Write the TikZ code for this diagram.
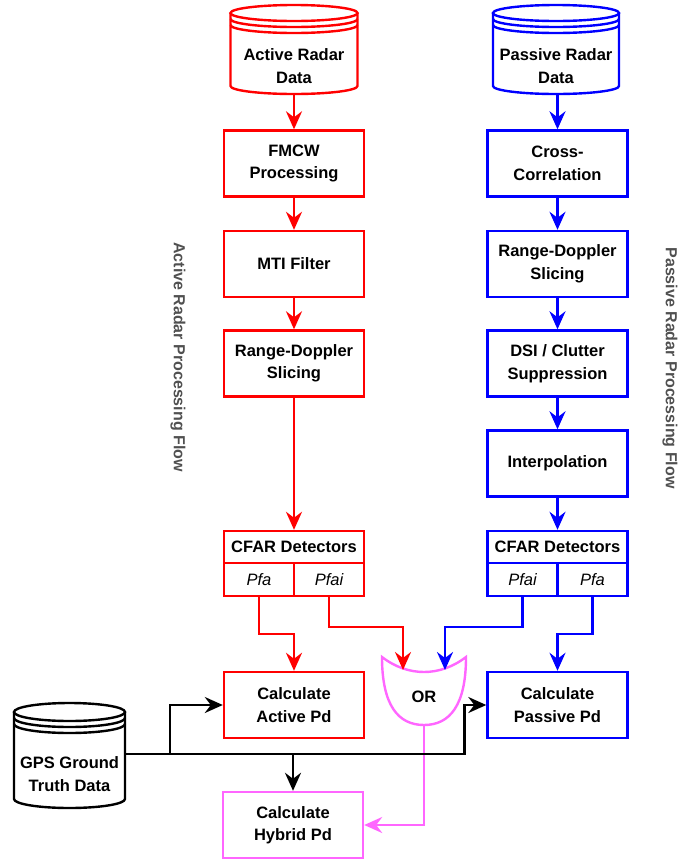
\documentclass[tikz,border=0pt]{standalone}
\usepackage{fontspec}
\setmainfont{Liberation Sans}
\usetikzlibrary{arrows.meta}

\definecolor{actred}{RGB}{255,0,0}
\definecolor{pasblue}{RGB}{0,0,255}
\definecolor{hybpink}{RGB}{255,102,255}
\definecolor{flowgray}{RGB}{80,80,80}

\newcommand{\boxfont}{\fontsize{16.5}{22.5}\selectfont\bfseries}
\newcommand{\cellfont}{\fontsize{16.5}{20}\selectfont\itshape}
\newcommand{\sidefont}{\fontsize{16}{20}\selectfont\bfseries}

% datastore cylinder: x, top y, half width, cap radius, bottom y, colour
\newcommand{\datastore}[6]{%
  \draw[#6, line width=2.4pt, fill=white]
    ({#1-#3},{#2+#4}) -- ({#1-#3},{#5-#4})
    arc[start angle=180, end angle=0, x radius=#3, y radius=#4]
    -- ({#1+#3},{#2+#4});
  \draw[#6, line width=2.4pt] (#1,{#2+#4}) ellipse[x radius=#3, y radius=#4];
  \foreach \off in {6,12}
    \draw[#6, line width=2.4pt] ({#1-#3},{#2+#4+\off})
      arc[start angle=180, end angle=0, x radius=#3, y radius=#4];
}

\tikzset{
  flowbox/.style={draw, line width=2.4pt, fill=white, minimum width=140pt,
    minimum height=66pt, inner sep=0pt, align=center, font=\boxfont},
  actbox/.style={flowbox, draw=actred},
  pasbox/.style={flowbox, draw=pasblue},
  hybbox/.style={flowbox, draw=hybpink},
  cellbox/.style={draw, line width=2.4pt, minimum width=70pt, minimum height=33pt,
    inner sep=0pt, font=\cellfont},
  storetext/.style={inner sep=0pt, align=center, font=\boxfont},
  flowarrow/.style={line width=2.4pt, -{Stealth[length=18pt, width=16pt, inset=6pt]}},
  sidelabel/.style={rotate=-90, text=flowgray, font=\sidefont},
}

\begin{document}
\begin{tikzpicture}[x=1pt, y=-1pt]
  \useasboundingbox (0,0) rectangle (697,863);

  % data sources
  \datastore{294}{5}{63.5}{8}{94}{actred}
  \datastore{556}{5}{63}{8}{94}{pasblue}
  \datastore{69.5}{703}{55.5}{9}{808}{black}
  \node[storetext, minimum height=54pt] (ard) at (294,66) {Active Radar\\Data};
  \node[storetext, minimum height=54pt] (prd) at (556,66) {Passive Radar\\Data};
  \node[storetext] (gps) at (69.5,774) {GPS Ground\\Truth Data};
  \coordinate (gpsout) at (125,754);

  % active chain
  \node[actbox] (fmcw) at (294,163.5) {FMCW\\Processing};
  \node[actbox] (mti) at (294,264) {MTI Filter};
  \node[actbox] (rda) at (294,363.5) {Range-Doppler\\Slicing};
  \node[actbox, minimum height=32pt] (cfa) at (294,547) {CFAR Detectors};
  \node[cellbox, draw=actred] (cfa1) at (259,579.5) {Pfa};
  \node[cellbox, draw=actred] (cfa2) at (329,579.5) {Pfai};

  % passive chain
  \node[pasbox] (xcor) at (557.5,163.5) {Cross-\\Correlation};
  \node[pasbox] (rdp) at (557.5,264) {Range-Doppler\\Slicing};
  \node[pasbox] (dsi) at (557.5,363.5) {DSI / Clutter\\Suppression};
  \node[pasbox] (interp) at (557.5,463.5) {Interpolation};
  \node[pasbox, minimum height=32pt] (cfp) at (557.5,547) {CFAR Detectors};
  \node[cellbox, draw=pasblue] (cfp1) at (522.5,579.5) {Pfai};
  \node[cellbox, draw=pasblue] (cfp2) at (592.5,579.5) {Pfa};

  % results
  \node[actbox] (actpd) at (294,705) {Calculate\\Active Pd};
  \node[pasbox] (paspd) at (557.5,705) {Calculate\\Passive Pd};
  \node[hybbox] (hybpd) at (293,825) {Calculate\\Hybrid Pd};

  % OR gate
  \draw[hybpink, line width=2.4pt] (382,657)
    .. controls (382,705) and (398,725) .. (424,725)
    .. controls (450,725) and (466,705) .. (466,657)
    .. controls (440,677) and (408,677) .. cycle;
  \node[font=\boxfont] (orgate) at (424,697) {OR};
  \coordinate (orin1) at (403,670);
  \coordinate (orin2) at (445,670);
  \coordinate (orout) at (424,725);

  % side labels
  \node[sidelabel] (actlbl) at (178,357) {Active Radar Processing Flow};
  \node[sidelabel] (paslbl) at (670,368) {Passive Radar Processing Flow};

  % connectors
  \draw[flowarrow, actred] (ard) -- (fmcw);
  \draw[flowarrow, actred] (fmcw) -- (mti);
  \draw[flowarrow, actred] (mti) -- (rda);
  \draw[flowarrow, actred] (rda) -- (cfa);
  \draw[flowarrow, pasblue] (prd.south -| xcor.north) -- (xcor);
  \draw[flowarrow, pasblue] (xcor) -- (rdp);
  \draw[flowarrow, pasblue] (rdp) -- (dsi);
  \draw[flowarrow, pasblue] (dsi) -- (interp);
  \draw[flowarrow, pasblue] (interp) -- (cfp);

  \draw[flowarrow, actred] (cfa1.south) -- ++(0,37) -| (actpd.north);
  \draw[flowarrow, actred] (cfa2.south) -- ++(0,30) -| (orin1);
  \draw[flowarrow, pasblue] (cfp1.south) -- ++(0,30) -| (orin2);
  \draw[flowarrow, pasblue] (cfp2.south) -- ++(0,37) -| (paspd.north);
  \draw[flowarrow, hybpink] (orout) |- (hybpd.east);

  \draw[flowarrow] (gpsout) -| ([xshift=-22pt]paspd.west) -- (paspd.west);
  \draw[flowarrow] (gpsout) -| ([xshift=-53pt]actpd.west) -- (actpd.west);
  \draw[flowarrow] (gpsout -| hybpd.north) -- (hybpd.north);
\end{tikzpicture}
\end{document}
